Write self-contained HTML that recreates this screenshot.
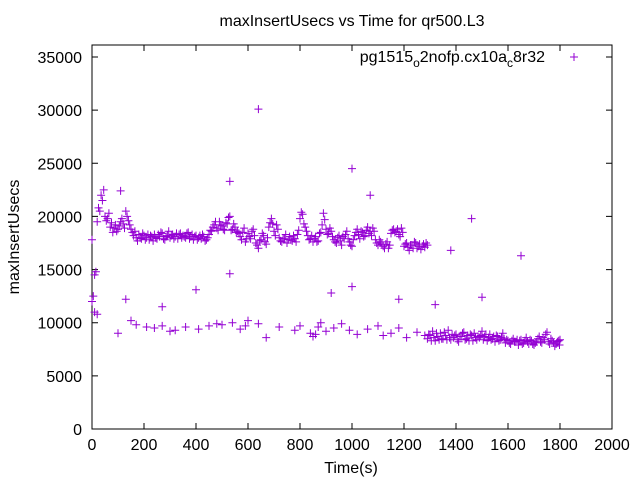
<!DOCTYPE html>
<html><head><meta charset="utf-8">
<style>
html,body{margin:0;padding:0;background:#fff;}
svg{display:block;font-family:"Liberation Sans",sans-serif;}
</style></head>
<body>
<svg id="chart" width="640" height="480">
<rect width="640" height="480" fill="#fff"/>
<text x="352" y="26" font-size="16" text-anchor="middle">maxInsertUsecs vs Time for qr500.L3</text>
<text x="351" y="473" font-size="16" text-anchor="middle">Time(s)</text>
<text transform="translate(19,237) rotate(-90)" font-size="16" text-anchor="middle">maxInsertUsecs</text>
<g id="axes"></g>
<g id="points"></g>
<g>
<text x="545" y="62" font-size="16" text-anchor="end">pg1515<tspan font-size="12" dy="5">o</tspan><tspan dy="-5">2nofp.cx10a</tspan><tspan font-size="12" dy="5">c</tspan><tspan dy="-5">8r32</tspan></text>
<path d="M570,57h8M574,53v8" stroke="#9400d3" stroke-width="1"/>
</g>
</svg>
<script>
const xTicks=[0,200,400,600,800,1000,1200,1400,1600,1800,2000];
const yTicks=[0,5000,10000,15000,20000,25000,30000,35000];
const upperTimes=[0,10,20,30,40,50,60,70,80,90,100,110,120,130,140,150,160,170,180,190,200,210,220,230,240,250,260,270,280,290,300,310,320,330,340,350,360,370,380,390,400,410,420,430,440,450,460,470,480,490,500,510,520,530,540,550,560,570,580,590,600,610,620,630,640,650,660,670,680,690,700,710,720,730,740,750,760,770,780,790,800,810,820,830,840,850,860,870,880,890,900,910,920,930,940,950,960,970,980,990,1000,1010,1020,1030,1040,1050,1060,1070,1080,1090,1100,1110,1120,1130,1140,1150,1160,1170,1180,1190,1200,1210,1220,1230,1240,1250,1260,1270,1280,1290];
const upperValues=[12000,14500,19500,20500,21500,20000,19800,19000,18500,19200,18800,19500,19300,20500,19600,18800,18200,18000,18300,17900,18200,18000,17800,18100,18300,17900,18100,18400,17800,18200,18000,18300,18100,17900,18400,18200,18000,18500,18100,17800,18200,18000,17900,18100,17800,18300,18600,19200,18900,19500,19100,18700,19300,20000,18800,19000,18600,18100,18500,17600,18400,17900,18800,17500,17000,17800,18200,17400,19000,19800,18600,19200,18000,17600,17900,17500,18100,17700,17900,18300,19800,20200,19000,18200,17900,17600,18100,17700,18500,20300,18800,18400,18600,17800,17500,18200,17300,17900,18600,17600,17200,18200,18800,17900,18500,18200,19000,18600,18900,17800,17300,17600,17200,17400,17000,18400,18800,18600,18300,18900,17200,17500,16800,17300,17600,17000,17400,17200,17100,17300];
const upper2Times=[5,15,25,35,45,55,65,75,85,95,105,115,125,135,145,155,165,175,185,195,205,215,225,235,245,255,265,275,285,295,305,315,325,335,345,355,365,375,385,395,405,415,425,435,445,455,465,475,485,495,505,515,525,535,545,555,565,575,585,595,605,615,625,635,645,655,665,675,685,695,705,715,725,735,745,755,765,775,785,795,805,815,825,835,845,855,865,875,885,895,905,915,925,935,945,955,965,975,985,995,1005,1015,1025,1035,1045,1055,1065,1075,1085,1095,1105,1115,1125,1135,1145,1155,1165,1175,1185,1195,1205,1215,1225,1235,1245,1255,1265,1275,1285];
const upper2Values=[12500,14800,20800,22000,22500,19600,20300,19400,18900,18600,19100,19800,18900,20000,19200,18500,18600,17700,18000,18400,17800,18300,18200,17700,18000,18300,18500,17900,18100,18600,18200,17900,18400,18300,18000,18100,18400,17900,18300,18100,17800,18200,18300,17700,18000,18700,19000,19500,18700,19200,18800,19400,19900,18700,19300,18500,18400,17800,18900,17900,18100,18600,18200,17300,17700,18400,17600,18000,19400,19300,18200,18800,17700,17900,18300,17800,17800,18200,17600,18700,20400,19300,18600,17800,18200,17900,17600,18400,19200,19700,18300,18900,18100,17600,18000,17700,18100,18300,17900,17300,17800,18500,18300,18600,18100,18700,18400,18200,18600,17500,17800,17400,17000,17600,17300,18700,18500,18800,18100,18500,17400,17100,17300,17000,17500,17200,16900,17400,17500];
const lowerTimes=[1290,1300,1310,1320,1330,1340,1350,1360,1370,1380,1390,1400,1410,1420,1430,1440,1450,1460,1470,1480,1490,1500,1510,1520,1530,1540,1550,1560,1570,1580,1590,1600,1610,1620,1630,1640,1650,1660,1670,1680,1690,1700,1710,1720,1730,1740,1750,1760,1770,1780,1790,1800];
const lower2Times=[1295,1305,1315,1325,1335,1345,1355,1365,1375,1385,1395,1405,1415,1425,1435,1445,1455,1465,1475,1485,1495,1505,1515,1525,1535,1545,1555,1565,1575,1585,1595,1605,1615,1625,1635,1645,1655,1665,1675,1685,1695,1705,1715,1725,1735,1745,1755,1765,1775,1785,1795,1798];
const lowerValues=[8500,8800,9200,8300,8700,9000,8500,8800,9300,8400,8600,8900,8200,8700,9100,8500,8300,8800,9000,8400,8600,9200,8700,8300,8900,8500,8200,8700,8400,9000,8100,8300,8000,8500,8200,7900,8400,8100,8600,8000,8300,7900,8200,8700,8100,8400,9100,8000,8300,7800,8200,8400];
const lower2Values=[8900,8300,8600,9000,8400,8500,9100,8400,8600,8900,8800,8400,8700,9000,8400,8800,8900,8300,8600,8700,8800,8400,8900,8600,8400,8700,8800,8300,8600,8500,8400,8100,8300,8200,8400,8300,8000,8300,8200,8400,8000,8100,8500,8200,8600,8900,8200,8500,8100,8000,8300,7900];
const outlierTimes=[640,1000,530,1070,110,1460,1650,1380,920,1000,1180,1500,1320,270,130,150,400,530,0,10,20,100,170,210,240,270,300,320,360,410,450,480,500,540,570,590,600,640,670,720,780,800,840,850,860,870,880,900,930,960,990,1020,1060,1100,1120,1150,1180,1210,1250,1280];
const outlierValues=[30100,24500,23300,22000,22400,19800,16300,16800,12800,13400,12200,12400,11700,11500,12200,10200,13100,14600,17800,11000,10800,9000,9800,9600,9500,9700,9200,9300,9600,9400,9700,9900,9800,10000,9400,9700,10200,9900,8600,9600,9300,9700,9000,8700,8900,9600,10000,9200,9500,9900,9300,8900,9400,9700,8800,9000,9500,8600,9100,8800];

const X0=92,X1=612,Y0=429,YTOP=45,Y35=57;
const xs=t=>X0+(t-0)/(2000-0)*(X1-X0);
const ys=v=>Y0-(v-0)/(35000-0)*(Y0-Y35);
const NS="http://www.w3.org/2000/svg";
const axes=document.getElementById('axes');
function mk(tag,attrs,parent){const e=document.createElementNS(NS,tag);for(const k in attrs)e.setAttribute(k,attrs[k]);parent.appendChild(e);return e;}
const frame=mk('rect',{x:X0,y:YTOP,width:X1-X0,height:Y0-YTOP,fill:'none',stroke:'#000','stroke-width':1},axes);


xTicks.forEach(t=>{
  const x=xs(t);
  const l=mk('path',{d:`M${x},${Y0}v-6M${x},${YTOP}v6`,stroke:'#000'},axes);
  
  
  const tx=mk('text',{x:x,y:Y0+21,'font-size':16,'text-anchor':'middle'},axes);
  tx.textContent=t;
  
  
});
yTicks.forEach(v=>{
  const y=ys(v);
  const l=mk('path',{d:`M${X0},${y}h6M${X1},${y}h-6`,stroke:'#000'},axes);
  
  
  const tx=mk('text',{x:X0-10,y:y+6,'font-size':16,'text-anchor':'end'},axes);
  tx.textContent=v;
  
  
});
const pts=document.getElementById('points');
let d='';
function add(times,vals){for(let i=0;i<vals.length;i++){const x=xs(times[i]),y=ys(vals[i]);d+=`M${(x-4).toFixed(1)},${y.toFixed(1)}h8M${x.toFixed(1)},${(y-4).toFixed(1)}v8`;}}
add(upperTimes,upperValues);
add(upper2Times,upper2Values);
add(lowerTimes,lowerValues);
add(lower2Times,lower2Values);
add(outlierTimes,outlierValues);
const p=mk('path',{d:d,stroke:'#9400d3','stroke-width':1,fill:'none'},pts);


</script>
</body></html>
